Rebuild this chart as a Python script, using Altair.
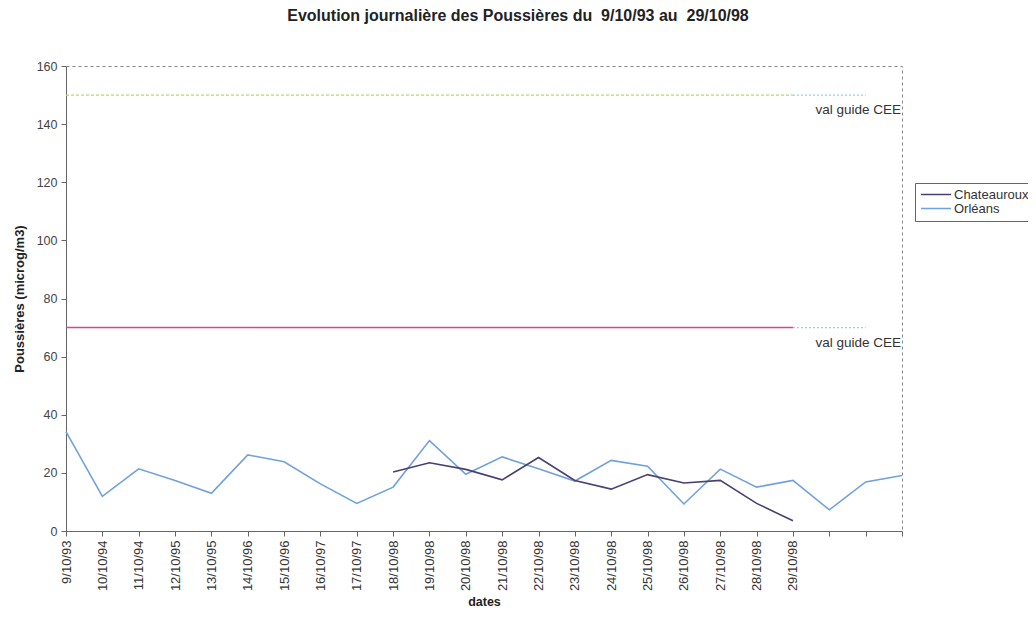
import altair as alt
import pandas as pd

dates = ["9/10/93", "10/10/94", "11/10/94", "12/10/95", "13/10/95", "14/10/96",
         "15/10/96", "16/10/97", "17/10/97", "18/10/98", "19/10/98", "20/10/98",
         "21/10/98", "22/10/98", "23/10/98", "24/10/98", "25/10/98", "26/10/98",
         "27/10/98", "28/10/98", "29/10/98"]
blank_slots = [" ", "  ", "   "]
categories = dates + blank_slots

orleans = [34.2, 11.9, 21.4, 17.4, 13.0, 26.2, 23.8, 16.2, 9.5, 15.1, 31.1, 19.5,
           25.5, 21.4, 17.2, 24.3, 22.3, 9.3, 21.3, 15.1, 17.4, 7.3, 16.9, 19.1]
chateauroux_dates = dates[9:]
chateauroux = [20.3, 23.5, 21.2, 17.6, 25.3, 17.4, 14.4, 19.4, 16.5, 17.4, 9.5, 3.5]

series_names = ["Chateauroux", "Orléans"]
series_colors = ["#4B3F72", "#6FA1DE"]
guide_values = [150, 70]
guide_label = "val guide CEE"
y_ticks = [0, 20, 40, 60, 80, 100, 120, 140, 160]
title_text = "Evolution journalière des Poussières du\u00a0 9/10/93 au\u00a0 29/10/98"

rows = [{"date": d, "value": v, "site": "Orléans"} for d, v in zip(categories, orleans)]
rows += [{"date": d, "value": v, "site": "Chateauroux"} for d, v in zip(chateauroux_dates, chateauroux)]
df = pd.DataFrame(rows)

FONT = "Liberation Sans"

x_scale = alt.Scale(type="point", domain=categories, padding=0)
x_axis = alt.Axis(title="dates", labelAngle=270, labelFontSize=13, labelFont=FONT,
                  labelColor="#333", titleFont=FONT, titleFontSize=12.5, titleFontWeight="bold",
                  titleColor="#222", tickSize=5, labelPadding=4, titlePadding=5,
                  domainColor="#666", tickColor="#666", grid=False)
y_axis = alt.Axis(title="Poussières (microg/m3)", values=y_ticks, labelFontSize=12.5,
                  labelFont=FONT, labelColor="#444", titleFont=FONT, titleFontSize=13,
                  titleFontWeight="bold", titleColor="#222", tickSize=5, labelPadding=4,
                  titlePadding=10, domainColor="#666", tickColor="#666", grid=False)

lines = alt.Chart(df).mark_line(strokeWidth=1.6).encode(
    x=alt.X("date:N", scale=x_scale, axis=x_axis, sort=categories),
    y=alt.Y("value:Q", scale=alt.Scale(domain=[0, 160]), axis=y_axis),
    color=alt.Color("site:N", scale=alt.Scale(domain=series_names, range=series_colors),
                    legend=alt.Legend(title=None, orient="none", legendX=849, legendY=117,
                                      strokeColor="#666", fillColor="white", padding=5,
                                      symbolType="stroke", symbolSize=900, clipHeight=13,
                                      symbolStrokeWidth=1.5, labelFontSize=13,
                                      labelFont=FONT, labelColor="#333", rowPadding=0,
                                      labelOffset=2)),
    detail="site:N",
)

main_df = pd.DataFrame({"date": [dates[0]] * 2, "date_end": [dates[-1]] * 2,
                        "y": guide_values})
ext_df = pd.DataFrame({"date": [dates[-1]] * 2, "date_end": [blank_slots[1]] * 2,
                       "y": guide_values})
label_df = pd.DataFrame({"date": [blank_slots[-1]] * 2, "y": guide_values,
                         "label": [guide_label] * 2})

def rule(data, color, dash, width):
    return alt.Chart(data).mark_rule(color=color, strokeDash=dash, strokeWidth=width).encode(
        x=alt.X("date:N", scale=x_scale, sort=categories),
        x2="date_end:N",
        y=alt.Y("y:Q"),
    )

green = rule(main_df[main_df.y == guide_values[0]], "#B5D96C", [3, 2], 1.3)
magenta = rule(main_df[main_df.y == guide_values[1]], "#D8458E", [1, 0], 1.5)
cyan = rule(ext_df, "#8AD3E6", [2, 2], 1.3)

labels = alt.Chart(label_df).mark_text(align="right", baseline="top", dy=8, dx=-1,
                                       fontSize=13.5, font=FONT, color="#333").encode(
    x=alt.X("date:N", scale=x_scale, sort=categories),
    y=alt.Y("y:Q"),
    text="label:N",
)

chart = alt.layer(green, magenta, cyan, labels, lines).properties(
    width=836, height=465,
    autosize=alt.AutoSizeParams(type="none"),
    padding={"left": 58, "top": 58, "right": 126, "bottom": 84},
    title=alt.TitleParams(title_text,
                          fontSize=16, fontWeight="bold", font=FONT, color="#222",
                          anchor="middle", dx=34, offset=23, baseline="alphabetic"),
).configure_view(stroke="#888", strokeDash=[3, 3])

chart.save("out.html", embed_options={"renderer": "svg", "actions": False})
